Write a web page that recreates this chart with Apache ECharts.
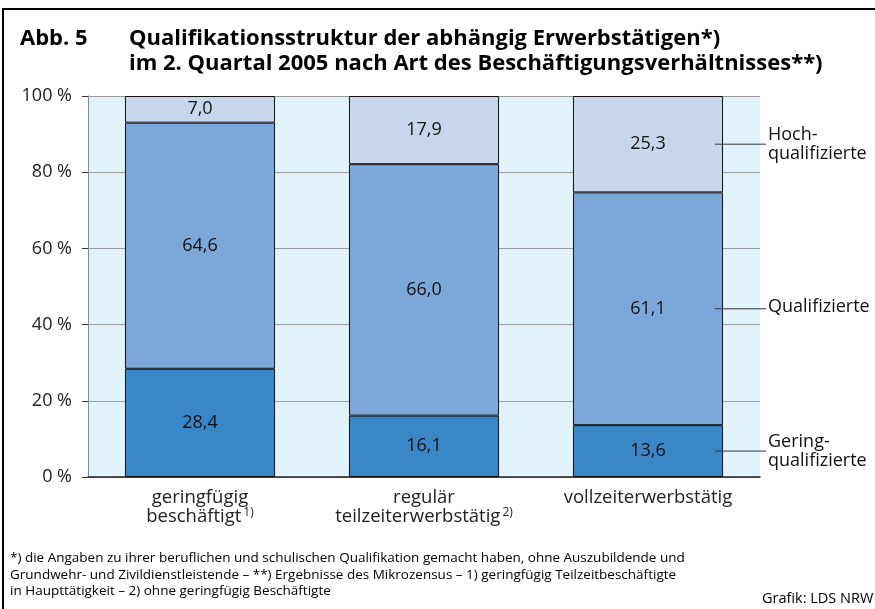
<!DOCTYPE html>
<html>
<head>
<meta charset="utf-8">
<script src="https://cdn.jsdelivr.net/npm/echarts@6/dist/echarts.min.js"></script>
<style>
html,body{margin:0;padding:0;background:#fff;}
#chart{width:875px;height:609px;}
</style>
</head>
<body>
<div id="chart"></div>
<script>
const categories = ['geringfügig\nbeschäftigt{sup|1)}', 'regulär\nteilzeiterwerbstätig{sup|2)}', 'vollzeiterwerbstätig'];
const seriesNames = ['Gering-\nqualifizierte', 'Qualifizierte', 'Hoch-\nqualifizierte'];
const gering = [28.4, 16.1, 13.6];
const qualifiziert = [64.6, 66.0, 61.1];
const hoch = [7.0, 17.9, 25.3];
const yTicks = [0, 20, 40, 60, 80, 100];
const colors = ['#3a87c8', '#7ca7d9', '#c6d7ed'];

const FONT = '"Open Sans", "Noto Sans", sans-serif';
const chart = echarts.init(document.getElementById('chart'), null, {renderer: 'canvas'});

const valueSets = [gering, qualifiziert, hoch];
const series = valueSets.map((vals, i) => ({
  name: seriesNames[i],
  type: 'bar',
  stack: 'total',
  barWidth: '67%',
  data: vals,
  itemStyle: {color: colors[i], borderColor: '#111', borderWidth: 1},
  label: {
    show: true, position: 'inside', fontFamily: FONT, fontSize: 18, color: '#111',
    formatter: p => p.value.toFixed(1).replace('.', ',')
  },
  silent: true,
  z: 3
}));

const option = {
  animation: false,
  backgroundColor: '#fff',
  grid: {left: 88, right: 115, top: 96, bottom: 132, show: true, backgroundColor: '#e0f2fa', borderWidth: 0},
  xAxis: {
    type: 'category',
    data: categories,
    axisLine: {show: true, lineStyle: {color: '#222', width: 1.5}},
    axisTick: {show: false},
    axisLabel: {
      interval: 0,
      fontFamily: FONT, fontSize: 18.5, color: '#222', lineHeight: 19, margin: 11,
      rich: {sup: {fontFamily: FONT, fontSize: 12, color: '#222', verticalAlign: 'top', lineHeight: 19, padding: [0, 0, 8, 2]}}
    }
  },
  yAxis: {
    type: 'value', min: 0, max: 100, interval: 20,
    axisLine: {show: true, lineStyle: {color: '#888', width: 1}},
    axisTick: {show: true, length: 6, lineStyle: {color: '#333'}},
    axisLabel: {fontFamily: FONT, fontSize: 18, color: '#222', margin: 16,
      formatter: v => yTicks.includes(v) ? v + ' %' : ''},
    splitLine: {show: true, lineStyle: {color: '#9a9a9a', width: 1}}
  },
  series: series
};
chart.setOption(option);

// annotations computed from the data through the axes
const lastIdx = 2;
let cum = 0;
const annots = [];
valueSets.forEach((vals, i) => {
  const mid = cum + vals[lastIdx] / 2;
  cum += vals[lastIdx];
  const p = chart.convertToPixel({gridIndex: 0}, [lastIdx, mid]);
  annots.push({y: p[1], name: seriesNames[i]});
});
const barRight = chart.convertToPixel({gridIndex: 0}, [lastIdx, 0])[0] + 224 * 0.67 / 2;

const graphics = [
  {type: 'rect', shape: {x: 3, y: 9, width: 880, height: 610}, style: {fill: null, stroke: '#000', lineWidth: 2}, z: 100},
  {type: 'text', left: 20, top: 26, style: {text: 'Abb. 5', font: 'bold 22px ' + FONT, fill: '#000', lineHeight: 25}},
  {type: 'text', left: 129, top: 26, style: {text: 'Qualifikationsstruktur der abhängig Erwerbstätigen*)\nim 2. Quartal 2005 nach Art des Beschäftigungsverhältnisses**)', font: 'bold 22px ' + FONT, fill: '#000', lineHeight: 25}},
  {type: 'text', left: 10, top: 550, style: {text: '*) die Angaben zu ihrer beruflichen und schulischen Qualifikation gemacht haben, ohne Auszubildende und\nGrundwehr- und Zivildienstleistende – **) Ergebnisse des Mikrozensus – 1) geringfügig Teilzeitbeschäftigte\nin Haupttätigkeit – 2) ohne geringfügig Beschäftigte', font: '13.5px ' + FONT, fill: '#000', lineHeight: 16.5}},
  {type: 'text', left: 762, top: 591, style: {text: 'Grafik: LDS NRW', font: '14.5px ' + FONT, fill: '#000'}}
];
annots.forEach(a => {
  graphics.push({type: 'line', shape: {x1: barRight - 8, y1: a.y, x2: 766, y2: a.y}, style: {stroke: '#333', lineWidth: 1}, z: 50});
  graphics.push({type: 'text', left: 768, top: a.y - (a.name.includes('\n') ? 19 : 11), style: {text: a.name, font: '18px ' + FONT, fill: '#111', lineHeight: 19}, z: 50});
});
chart.setOption({graphic: graphics});
</script>
</body>
</html>
